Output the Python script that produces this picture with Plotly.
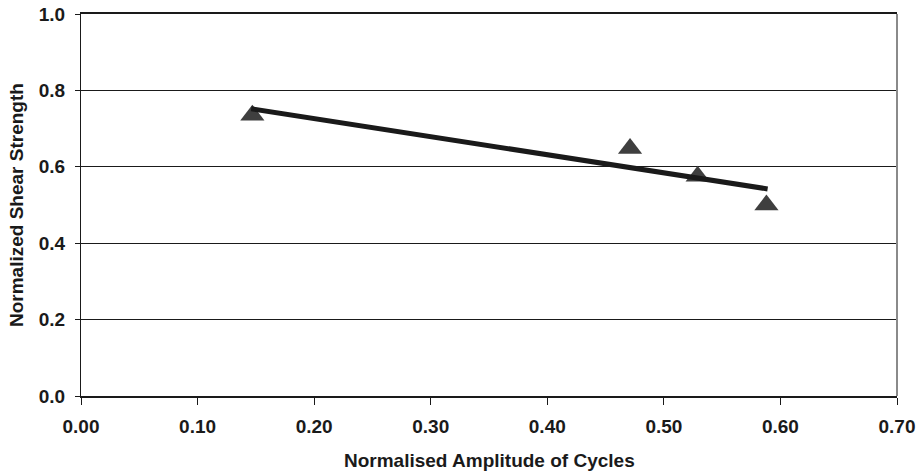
import plotly.graph_objects as go

# Data
amplitude = [0.147, 0.471, 0.529, 0.588]
shear_strength = [0.735, 0.648, 0.575, 0.500]

trend_x = [0.146, 0.589]
trend_y = [0.752, 0.542]

x_title = "Normalised Amplitude of Cycles"
y_title = "Normalized Shear Strength"

font_family = "Liberation Sans, Arial, sans-serif"

fig = go.Figure()

fig.add_trace(go.Scatter(
    x=amplitude, y=shear_strength, mode="markers",
    marker=dict(symbol="triangle-up", size=21, color="#3f3f3f",
                line=dict(width=0)),
    showlegend=False, hoverinfo="x+y",
))

fig.add_trace(go.Scatter(
    x=trend_x, y=trend_y, mode="lines",
    line=dict(color="#1a1a1a", width=5),
    showlegend=False, hoverinfo="skip",
))

tickfont = dict(size=19, family=font_family, weight="bold", color="#1a1a1a")
titlefont = dict(size=19, family=font_family, weight="bold", color="#1a1a1a")

fig.update_layout(
    width=920, height=473,
    margin=dict(l=81, r=23, t=14, b=77),
    paper_bgcolor="white", plot_bgcolor="white",
    font=dict(family=font_family, color="#1a1a1a"),
    xaxis=dict(
        range=[0, 0.70], dtick=0.1, tick0=0, tickformat=".2f",
        showgrid=False, zeroline=False, automargin=False,
        showline=True, linecolor="#1a1a1a", linewidth=2, mirror=True,
        ticks="outside", ticklen=7, tickwidth=1, tickcolor="#1a1a1a",
        ticklabelstandoff=5,
        tickfont=tickfont,
    ),
    yaxis=dict(
        range=[0, 1.0], dtick=0.2, tick0=0, tickformat=".1f",
        showgrid=True, gridcolor="#1a1a1a", gridwidth=1,
        zeroline=False, automargin=False,
        showline=True, linecolor="#1a1a1a", linewidth=1,
        ticks="outside", ticklen=5, tickwidth=1, tickcolor="#1a1a1a",
        ticklabelstandoff=6,
        tickfont=tickfont,
    ),
    shapes=[dict(type="line", xref="paper", yref="paper", x0=1, x1=1, y0=0, y1=1,
                 line=dict(color="#8a8a8a", width=2))],
    annotations=[
        dict(text=x_title, xref="paper", yref="paper", x=0.5, y=0,
             xanchor="center", yanchor="middle", yshift=-64,
             showarrow=False, font=titlefont),
        dict(text=y_title, xref="paper", yref="paper", x=0, y=0.5,
             xanchor="center", yanchor="middle", xshift=-65, textangle=-90,
             showarrow=False, font=titlefont),
    ],
)

fig.write_html(
    "out.html",
    config={"displayModeBar": False},
    post_script="document.body.style.margin='0px';document.body.style.padding='0px';",
)
